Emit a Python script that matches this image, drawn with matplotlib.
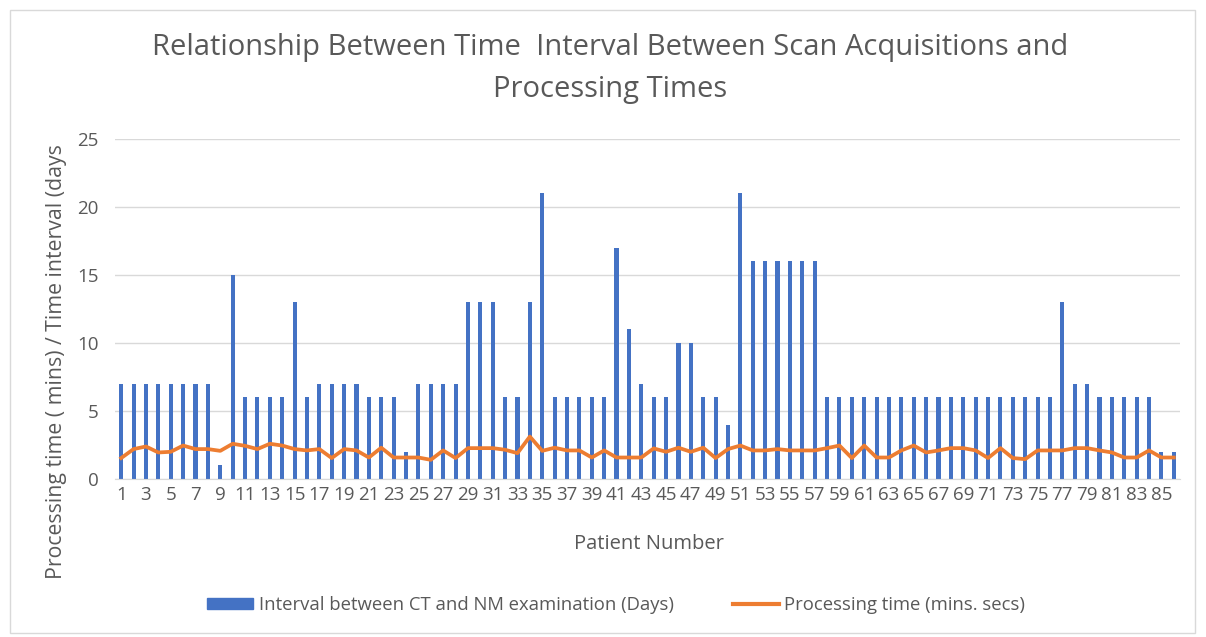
import matplotlib
matplotlib.use("Agg")
import matplotlib.pyplot as plt
from matplotlib.patches import Rectangle, Patch
from matplotlib.lines import Line2D

patients = list(range(1, 87))
interval_days = [7, 7, 7, 7, 7, 7, 7, 7, 1, 15,
                 6, 6, 6, 6, 13, 6, 7, 7, 7, 7,
                 6, 6, 6, 2, 7, 7, 7, 7, 13, 13,
                 13, 6, 6, 13, 21, 6, 6, 6, 6, 6,
                 17, 11, 7, 6, 6, 10, 10, 6, 6, 4,
                 21, 16, 16, 16, 16, 16, 16, 6, 6, 6,
                 6, 6, 6, 6, 6, 6, 6, 6, 6, 6,
                 6, 6, 6, 6, 6, 6, 13, 7, 7, 6,
                 6, 6, 6, 6, 2, 2]
processing_time = [1.54, 2.2, 2.39, 1.95, 2.0, 2.46, 2.2, 2.2, 2.07, 2.59,
                   2.44, 2.2, 2.59, 2.46, 2.2, 2.1, 2.2, 1.54, 2.2, 2.1,
                   1.58, 2.3, 1.58, 1.58, 1.58, 1.41, 2.1, 1.54, 2.27, 2.27,
                   2.27, 2.15, 1.9, 3.12, 2.07, 2.3, 2.1, 2.1, 1.58, 2.1,
                   1.58, 1.58, 1.58, 2.25, 2.0, 2.3, 2.0, 2.3, 1.54, 2.2,
                   2.46, 2.1, 2.1, 2.2, 2.1, 2.1, 2.1, 2.27, 2.46, 1.54,
                   2.46, 1.58, 1.58, 2.1, 2.46, 1.95, 2.1, 2.27, 2.27, 2.1,
                   1.54, 2.27, 1.54, 1.46, 2.1, 2.1, 2.1, 2.27, 2.27, 2.1,
                   1.95, 1.58, 1.58, 2.1, 1.58, 1.58]
x_tick_labels = [str(p) for p in patients[::2]]
y_ticks = [0, 5, 10, 15, 20, 25]

title_lines = ["Relationship Between Time  Interval Between Scan Acquisitions and",
               "Processing Times"]
xlabel = "Patient Number"
ylabel = "Processing time ( mins) / Time interval (days"
bar_label = "Interval between CT and NM examination (Days)"
line_label = "Processing time (mins. secs)"

BLUE = "#4472C4"
ORANGE = "#ED7D31"
GRID = "#D9D9D9"
TXT = "#595959"

plt.rcParams['font.family'] = ['Open Sans', 'DejaVu Sans']

W, H = 1206, 637
fig = plt.figure(figsize=(W / 100, H / 100), dpi=100)
fig.patch.set_facecolor("white")

# outer chart border
fig.add_artist(Rectangle((10 / W, 4 / H), 1185 / W, (H - 14) / H,
                         transform=fig.transFigure, fill=False,
                         edgecolor="#D9D9D9", linewidth=1))

left, right, top, bottom = 115, 1180, 139, 479
ax = fig.add_axes([left / W, 1 - bottom / H, (right - left) / W, (bottom - top) / H])

ax.bar(patients, interval_days, width=0.33, color=BLUE, zorder=2)
ax.plot(patients, processing_time, color=ORANGE, linewidth=2.7, zorder=3,
        solid_joinstyle="round")

ax.set_xlim(0.5, 86.5)
ax.set_ylim(0, 25)
ax.set_yticks(y_ticks)
ax.set_xticks(patients[::2])
ax.set_xticklabels(x_tick_labels)
ax.grid(axis="y", color=GRID, linewidth=1, zorder=0)
ax.set_axisbelow(True)
for s in ["top", "right", "left"]:
    ax.spines[s].set_visible(False)
ax.spines["bottom"].set_color(GRID)
ax.tick_params(axis="both", length=0, colors=TXT, labelsize=13.5)
ax.tick_params(axis="x", pad=5)
ax.tick_params(axis="y", pad=12)

fig.text(610 / W, 1 - 47 / H, title_lines[0], ha="center", va="center",
         fontsize=21, color=TXT)
fig.text(610 / W, 1 - 89 / H, title_lines[1], ha="center", va="center",
         fontsize=21, color=TXT)
fig.text(649 / W, 1 - 544 / H, xlabel, ha="center", va="center",
         fontsize=14.5, color=TXT)
fig.text(57 / W, 1 - 362 / H, ylabel, ha="center", va="center",
         rotation=90, fontsize=15.3, color=TXT)

handles = [Patch(facecolor=BLUE, edgecolor=BLUE, label=bar_label),
           Line2D([0], [0], color=ORANGE, linewidth=3, label=line_label)]
leg = fig.legend(handles=handles, loc="center", bbox_to_anchor=(616 / W, 1 - 605 / H),
                 ncol=2, frameon=False, fontsize=13.3, handlelength=2.5,
                 handleheight=0.55, handletextpad=0.3, columnspacing=3.2)
for t in leg.get_texts():
    t.set_color(TXT)

fig.savefig("out.png", dpi=100)
